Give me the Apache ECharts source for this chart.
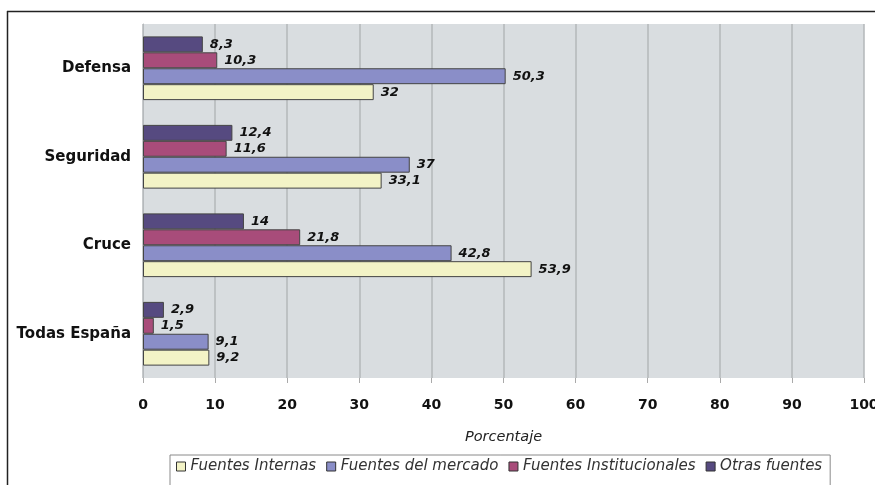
<!DOCTYPE html>
<html>
<head>
<meta charset="utf-8">
<script src="https://cdn.jsdelivr.net/npm/echarts@6/dist/echarts.min.js"></script>
<style>
  html, body { margin: 0; padding: 0; background: #ffffff; }
  #chart { width: 875px; height: 485px; }
</style>
</head>
<body>
<div id="chart"></div>
<script>
// Categories listed bottom to top (value axis runs upward for a vertical category axis)
const categories = ['Todas España', 'Cruce', 'Seguridad', 'Defensa'];
const seriesNames = ['Fuentes Internas', 'Fuentes del mercado', 'Fuentes Institucionales', 'Otras fuentes'];
const internas = [9.2, 53.9, 33.1, 32];
const mercado = [9.1, 42.8, 37, 50.3];
const institucionales = [1.5, 21.8, 11.6, 10.3];
const otras = [2.9, 14, 12.4, 8.3];
const xTicks = [0, 10, 20, 30, 40, 50, 60, 70, 80, 90, 100];

const colors = ['#f3f3c6', '#8a8ec8', '#a84c7a', '#564a80'];
const values = [internas, mercado, institucionales, otras];

const fmt = v => String(v).replace('.', ',');
const FONT = 'DejaVu Sans, Verdana, sans-serif';

// Bars inside a band are stacked top-down in series order, so the
// "Otras fuentes" series goes first and "Fuentes Internas" last.
const order = [3, 2, 1, 0];

const chart = echarts.init(document.getElementById('chart'));
chart.setOption({
  animation: false,
  textStyle: { fontFamily: FONT },
  grid: {
    left: 143, right: 11, top: 24, bottom: 107,
    outerBoundsMode: 'none',
    show: true, backgroundColor: '#d9dde0', borderWidth: 0
  },
  graphic: [
    { type: 'line', shape: { x1: 7, y1: 11.5, x2: 875, y2: 11.5 }, style: { stroke: '#222', lineWidth: 1.5 } },
    { type: 'line', shape: { x1: 7.5, y1: 11, x2: 7.5, y2: 485 }, style: { stroke: '#222', lineWidth: 1.5 } }
  ],
  legend: {
    data: seriesNames,
    left: 170,
    top: 455,
    padding: [4, 8, 20, 6],
    itemGap: 10,
    itemWidth: 9,
    itemHeight: 9,
    icon: 'rect',
    borderColor: '#8a8a8a',
    borderWidth: 1,
    itemStyle: { borderColor: '#333', borderWidth: 1 },
    textStyle: { fontFamily: FONT, fontSize: 15, fontStyle: 'italic', color: '#333', padding: [0, 0, 0, 0] }
  },
  xAxis: {
    type: 'value',
    min: 0, max: 100, interval: 10,
    name: 'Porcentaje',
    nameLocation: 'middle',
    nameGap: 52,
    nameTextStyle: { fontFamily: FONT, fontSize: 14.5, fontStyle: 'italic', color: '#222' },
    axisLine: { show: false },
    axisTick: { show: true, length: 5, lineStyle: { color: '#aaa' } },
    axisLabel: { fontFamily: FONT, fontSize: 14, fontWeight: 'bold', color: '#111', margin: 20, formatter: v => xTicks.includes(v) ? String(v) : '' },
    splitLine: { show: true, lineStyle: { color: '#b3b7ba', width: 1.5 } }
  },
  yAxis: {
    type: 'category',
    data: categories,
    axisLine: { show: true, lineStyle: { color: '#b5b9bc' } },
    axisTick: { show: false },
    axisLabel: { fontFamily: FONT, fontSize: 15, fontWeight: 'bold', color: '#111', margin: 12 }
  },
  series: order.map(i => ({
    name: seriesNames[i],
    type: 'bar',
    data: values[i],
    barCategoryGap: '28%',
    barGap: '0%',
    itemStyle: { color: colors[i], borderColor: '#444', borderWidth: 1 },
    label: {
      show: true,
      position: 'right',
      distance: 7,
      fontFamily: FONT,
      fontSize: 13,
      fontWeight: 'bold',
      fontStyle: 'italic',
      color: '#111',
      formatter: p => fmt(p.value)
    }
  }))
});
</script>
</body>
</html>
